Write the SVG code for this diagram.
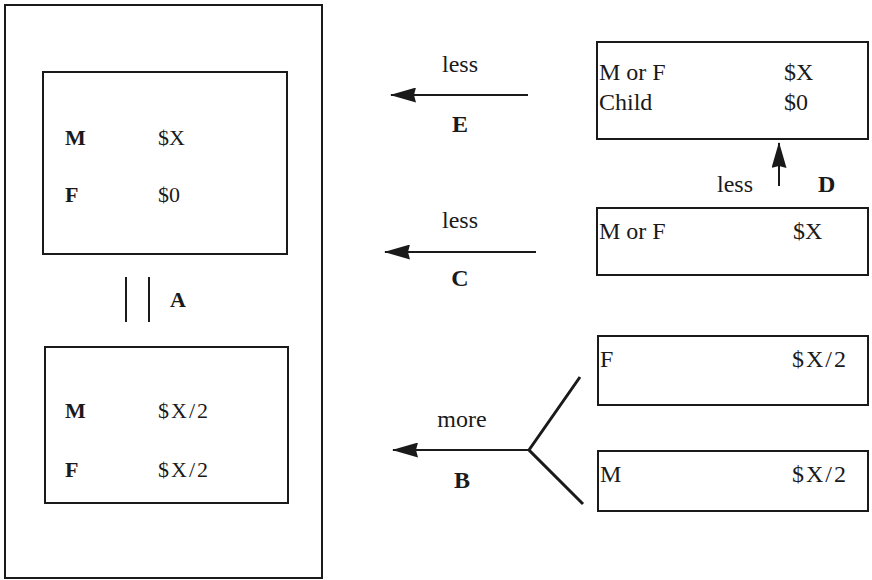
<svg xmlns="http://www.w3.org/2000/svg" width="872" height="580" viewBox="0 0 872 580">
<style>
  .box{fill:none;stroke:#1a1a1a;stroke-width:2}
  .t{font-family:"Liberation Serif","Times New Roman",serif;font-size:24px;fill:#1a1a1a}
  .s{font-size:22px}
  .b{font-weight:bold}
  .ln{stroke:#1a1a1a;stroke-width:2;fill:none}
  .br{stroke:#1a1a1a;stroke-width:3;fill:none}
</style>
<defs>
  <marker id="ah" viewBox="0 0 26 15" refX="25" refY="7.5" markerWidth="26" markerHeight="15" markerUnits="userSpaceOnUse" orient="auto">
    <path d="M26,7.5 L0,0 L2,7.5 L0,15 Z" fill="#1a1a1a"/>
  </marker>
</defs>
<g id="outer">
  <rect class="box" x="5" y="5" width="317" height="573"/>
</g>
<g id="before">
  <rect class="box" x="43" y="72" width="244" height="182"/>
  <text class="t s b" x="65" y="145">M</text>
  <text class="t s" x="158" y="145">$X</text>
  <text class="t s b" x="65" y="202">F</text>
  <text class="t s" x="158" y="202">$0</text>
</g>
<g id="after">
  <rect class="box" x="45" y="347" width="243" height="156"/>
  <text class="t s b" x="65" y="418">M</text>
  <text class="t s" x="158" y="418" letter-spacing="2">$X/2</text>
  <text class="t s b" x="65" y="477">F</text>
  <text class="t s" x="158" y="477" letter-spacing="2">$X/2</text>
</g>
<g id="boxE">
  <rect class="box" x="597" y="42" width="271" height="97"/>
  <text class="t" x="599" y="80">M or F</text>
  <text class="t" x="784" y="80">$X</text>
  <text class="t" x="599" y="110">Child</text>
  <text class="t" x="784" y="110">$0</text>
</g>
<g id="boxC">
  <rect class="box" x="597" y="208" width="271" height="67"/>
  <text class="t" x="599" y="239">M or F</text>
  <text class="t" x="793" y="239">$X</text>
</g>
<g id="boxF">
  <rect class="box" x="598" y="336" width="270" height="69"/>
  <text class="t" x="600" y="367">F</text>
  <text class="t" x="792" y="367" letter-spacing="2">$X/2</text>
</g>
<g id="boxM">
  <rect class="box" x="598" y="451" width="270" height="60"/>
  <text class="t" x="600" y="482">M</text>
  <text class="t" x="792" y="482" letter-spacing="2">$X/2</text>
</g>
<g id="connectors">
  <line class="ln" x1="126" y1="277" x2="126" y2="322"/>
  <line class="ln" x1="149" y1="277" x2="149" y2="322"/>
  <text class="t s b" x="170" y="307">A</text>

  <line class="ln" x1="528" y1="95" x2="391" y2="95" marker-end="url(#ah)"/>
  <text class="t" x="460" y="72" text-anchor="middle">less</text>
  <text class="t b" x="460" y="132" text-anchor="middle">E</text>

  <line class="ln" x1="536" y1="252" x2="385" y2="252" marker-end="url(#ah)"/>
  <text class="t" x="460" y="228" text-anchor="middle">less</text>
  <text class="t b" x="460" y="286" text-anchor="middle">C</text>

  <line class="ln" x1="779" y1="186" x2="779" y2="143" marker-end="url(#ah)"/>
  <text class="t" x="735" y="192" text-anchor="middle">less</text>
  <text class="t b" x="818" y="192">D</text>

  <line class="ln" x1="529" y1="450" x2="393" y2="450" marker-end="url(#ah)"/>
  <polyline class="br" points="580,377 529,450 583,504"/>
  <text class="t" x="462" y="427" text-anchor="middle">more</text>
  <text class="t b" x="462" y="488" text-anchor="middle">B</text>
</g>
</svg>
